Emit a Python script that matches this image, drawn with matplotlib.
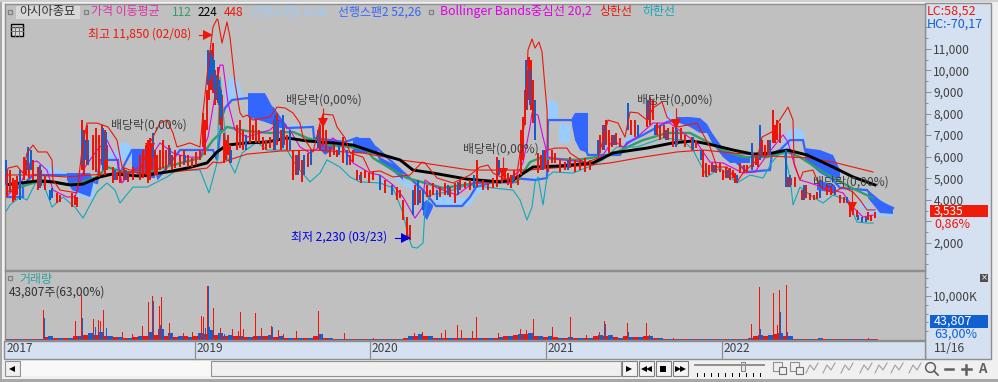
import numpy as np
import matplotlib
matplotlib.use("Agg")
import matplotlib.pyplot as plt
from matplotlib.patches import Rectangle
from matplotlib.ticker import FixedLocator, FuncFormatter

plt.rcParams['font.family'] = ['Noto Sans CJK KR', 'DejaVu Sans']

nan = float('nan')

# candles: bar number, high, low
red_x = [7,10,13,15,17,20,24,26,29,33,38,41,45,57,60,72,75,77,82,84,87,93,96,99,102,105,107,113,117,120,124,128,133,140,143,146,148,150,152,155,157,160,163,166,169,172,175,180,184,188,192,196,200,203,205,207,209,211,213,215,218,220,222,224,226,228,230,237,240,243,250,253,256,259,263,266,270,274,277,281,284,287,293,296,299,302,308,320,323,326,330,334,337,343,350,353,357,361,365,369,373,385,397,400,403,407,410,415,420,427,430,433,440,445,450,455,460,465,470,477,483,488,493,497,502,505,508,511,514,518,521,523,525,527,529,531,533,538,541,545,548,552,555,560,565,570,575,580,585,590,600,603,606,609,612,616,620,631,635,647,650,653,657,660,664,668,673,677,681,685,692,696,703,706,709,712,716,720,723,726,730,733,735,740,744,747,753,756,758,762,765,768,773,775,777,780,788,791,795,802,806,810,814,817,827,831,840,844,850,853,857,868,871,875]
red_hi = [5290,5380,5010,4920,5100,5010,5980,5850,5610,5850,5520,5380,5150,4320,4220,4320,4220,4130,7700,7240,7470,7010,7330,7010,7470,7240,6540,5520,5290,5380,5470,5290,5520,6080,6310,6540,6770,6870,6540,6310,6080,6310,6770,6310,6540,6080,6310,6080,6310,6080,5940,6220,6310,8030,7700,9090,10480,10950,11270,10020,10160,9230,8860,7100,6770,7010,6540,7470,7700,7240,7840,7470,7700,7240,6910,6770,6910,7700,8030,7240,7380,7010,6310,6080,6310,5850,6170,7470,7840,7240,6450,6540,6310,6910,6080,6310,5380,5290,5380,5240,5290,4920,4590,4450,3990,3200,2830,4690,4450,4690,4450,4780,4590,4780,4590,4780,4920,4830,4920,5850,4920,4830,5010,5980,5380,5290,5240,5150,5380,5150,7240,7840,9090,10020,10620,10480,9560,6170,6080,6310,5850,6310,6170,5850,5750,5980,5850,5850,5940,5850,7010,7470,7700,7240,7010,7100,6870,7700,7700,8400,8770,8630,7560,7470,7470,7330,7380,7240,7330,7010,6910,6770,6310,5710,5610,5710,5610,5710,5380,5520,5470,5380,5240,5710,5610,5610,6170,6080,5940,6770,6540,6770,8170,7470,7700,7560,5060,5010,5060,4450,4690,4320,4220,4360,4690,4590,4220,4130,3760,3660,3530,3430,3290,3430]
red_lo = [4130,4360,3900,3990,4220,4180,4920,5150,5010,4920,4450,4640,4450,3850,3900,3660,3760,3660,5380,5150,5610,5380,5290,5060,5610,5150,5380,4780,4920,4780,4920,4830,4920,4920,5010,5150,4780,4920,5380,5150,5150,5380,5470,5380,5610,5380,5470,5520,5610,5520,5520,5610,5850,6450,6080,7240,8630,9090,8950,8400,8490,7470,7240,5710,5850,6080,5710,6310,6400,6310,6640,6770,6640,6640,6310,6310,6400,6310,6540,6310,6540,6310,4920,5150,5380,4830,5520,6310,6540,6310,5980,6080,5980,5710,5610,5750,4920,4780,5010,4780,4920,4320,3990,4080,3060,2130,2130,3760,3850,4130,4130,4220,4130,4220,4130,3850,4450,4550,4450,4590,4450,4450,4550,4590,4780,4920,4690,4550,4920,4690,5150,5850,7470,8170,8630,8170,7560,5240,5380,5470,5290,5710,5710,5290,5380,5470,5290,5380,5290,5380,6170,6310,6540,6170,6450,6540,6450,7010,6910,7380,7470,7700,7010,6770,6870,6770,6450,6540,6770,6450,6310,6400,5060,5060,5150,5290,5240,5290,4920,5010,4920,5010,4780,5240,5240,5290,5520,5610,5520,5980,5980,6080,6640,6640,6770,6640,4590,4690,4590,3990,4080,3990,3990,4040,4220,4220,3850,3850,3200,3290,3200,3060,3020,3150]

blue_x = [6,20,28,31,40,50,52,82,85,88,103,106,115,126,153,170,185,208,210,212,214,216,219,221,231,246,275,278,283,290,298,304,311,318,339,347,360,380,392,413,418,423,437,448,458,474,499,513,526,530,535,543,568,598,604,614,628,638,648,655,666,676,693,701,714,728,737,752,760,770,786,790,804,820,835,847,858,862,866]
blue_hi = [5850,5380,6450,6310,5610,4450,4550,7240,6770,6770,7330,7150,5380,5380,7100,6400,6080,10950,10860,10720,10480,9790,9560,9090,6310,7010,7930,7700,7930,7240,6080,6080,6310,7240,6540,6310,5150,5150,4690,4450,4920,4450,4450,4690,4830,5150,5850,5150,10480,10020,8630,6310,5850,6770,7470,7010,8490,7470,8630,7470,7240,7470,6910,6310,5610,5380,5150,6640,7470,6770,6310,5150,4690,4450,4590,4130,3290,3200,3200]
blue_lo = [4690,3990,5380,5380,4550,3990,4080,5610,5850,5610,5380,5850,4920,4920,5940,5610,5750,9330,9560,9790,9090,8630,8400,7790,5710,6310,6310,6770,6400,6310,5150,5150,5610,6400,6080,5610,4920,4450,4220,3290,3760,3530,3990,4220,4220,4550,5150,4780,8170,8400,6770,5380,5380,6080,6310,6540,7240,6910,7700,7010,6770,6450,6310,5850,5290,5010,4780,5380,5850,6080,4590,4590,3990,4080,4220,3850,3060,2970,2970]

# moving averages
ma112_x = [5,20,43,67,83,97,107,123,147,173,200,213,227,247,270,293,307,330,350,367,373,393,407,443,477,517,530,540,577,610,643,667,690,723,743,767,787,800,823,850,873]
ma112 = [4320,4590,4920,4690,4830,5060,5520,5290,5290,5610,5940,6770,7380,7190,7100,7150,6870,6540,6450,6310,5940,5380,5010,4550,4780,4830,5750,5940,5850,6080,6770,7100,7100,6310,5980,5980,6220,5980,5290,4590,4080]
ma224_x = [5,37,53,70,83,100,113,140,167,187,207,217,227,247,267,287,307,333,353,380,400,413,433,467,500,513,533,560,593,613,647,673,693,713,733,753,773,787,807,833,853,875]
ma224 = [4690,4870,4830,4690,4730,5060,5200,5100,5290,5470,5710,6220,6540,6640,6680,6870,6730,6640,6540,6120,5850,5380,5240,4960,4830,4920,5520,5570,5710,6170,6400,6640,6730,6540,6310,6120,6170,6310,6080,5520,5060,4690]
ma448_x = [5,33,67,130,147,173,207,213,220,247,280,313,363,400,423,470,527,590,610,643,677,703,733,770,810,833,873]
ma448 = [5150,5150,5060,5290,5240,5290,5470,5750,5710,6120,6260,6310,6170,5850,5710,5380,5380,5610,5710,5980,6220,6310,6170,6030,5940,5750,5290]

# bollinger bands
upper_x = [5,8,17,23,27,33,38,47,52,53,60,77,82,87,97,108,117,122,130,140,150,160,167,173,177,190,200,203,208,213,217,218,222,227,230,235,240,243,247,253,263,270,277,285,293,300,303,313,320,323,333,337,345,350,363,370,380,393,410,422,425,437,453,470,480,488,493,507,517,525,528,532,535,539,542,545,547,548,555,567,570,585,598,603,608,618,625,630,638,647,653,662,667,678,697,710,717,727,737,743,757,762,772,788,793,794,800,803,813,820,833,843,853,860,867,875]
upper = [4780,5470,5570,5240,6170,6540,6220,6220,5850,4920,4450,4320,6310,7560,7560,7380,6770,5520,5380,5380,6640,7560,7700,7100,6450,6640,6450,8030,10160,12020,12390,12340,11270,12250,11550,9420,8030,7840,7930,7700,7790,7840,8300,8260,8030,7560,6910,6220,7560,7980,7930,7380,6870,6170,5980,5290,5340,5060,5150,5750,5710,5010,4780,5150,5520,5610,5240,4920,5240,7700,10950,11460,11040,11320,10860,9230,8170,6310,6400,6400,6170,5710,5940,6770,7700,7560,6910,8070,8030,7700,8260,8540,7840,7380,7560,6450,5520,5520,4830,5240,5850,6910,7150,8300,7700,5710,4920,5290,5380,4590,4320,4590,4360,3990,3530,3530]
mid_x = [5,13,20,30,37,47,53,67,75,85,97,107,117,122,133,147,160,173,187,200,208,213,220,223,228,235,247,270,280,290,300,310,320,333,343,353,370,380,393,403,415,422,425,437,457,473,493,513,523,530,532,538,543,548,563,593,603,613,623,637,653,670,683,697,710,723,743,755,767,783,788,795,800,810,822,843,853,863,873]
mid = [4080,4450,4690,5710,5800,5380,4450,4130,4130,5520,6310,6770,5850,4780,5380,5710,6640,6170,5980,5980,6910,8300,10250,10250,8490,7240,6910,7240,7700,7240,6450,6170,6450,6870,6450,5710,5240,5150,4690,4130,3150,3620,4920,4550,4220,4780,4830,4780,5710,7380,8030,7930,6910,5980,5850,5710,6080,6770,6450,6910,7560,7560,7100,6640,5750,5710,5240,5290,6080,7010,6680,5520,4920,4780,4590,4320,3660,3200,3290]
lower_x = [5,10,20,27,37,43,52,63,75,83,97,107,115,120,133,147,167,177,200,209,217,220,223,227,235,242,257,267,287,297,310,320,327,340,350,360,380,393,403,408,412,417,423,425,430,447,467,493,513,520,527,532,535,538,543,547,553,573,593,603,617,637,663,683,693,707,720,737,750,763,772,783,790,793,800,813,823,833,847,857,867,873]
lower = [3390,3760,4130,3990,4920,4780,3660,4130,3660,3150,4360,4780,4450,3850,4590,4590,5060,5380,5380,4320,5710,9700,8170,5980,5240,6170,6680,6310,6310,5520,4830,5240,5850,5520,5060,4830,4780,4550,3390,2370,1810,1760,1990,3530,4220,4360,4690,4550,4450,3990,3060,3660,4780,5060,3760,5060,5290,5240,5610,5850,6450,6450,6870,6770,6310,5060,5470,4780,5150,5010,5750,6310,5060,3760,4590,4130,3850,4220,3990,2970,2920,2920]

# ichimoku cloud, pieces split by nan
light_x = [45,65,65, 72,93,95,95, 100,118,120,130,133,133, 225,230,235,240,243,243, 290,310,310, 345,355,355, 395,403,420,420, 435,460,470,476,490,490, 533,537,537, 548,552,558,558, 559,570,570, 625,630,637,643,643, 667,670,673,673, 780,788,795,803,805,805, 860,872,882,893]
light_top = [5610,5290,nan, 4450,4920,4690,nan, 6080,6310,6640,6640,5850,nan, 8860,9700,9650,9330,8720,nan, 7470,7470,nan, 6870,6770,nan, 5150,5010,4450,nan, 4220,4080,4130,4690,4920,nan, 5150,5060,nan, 8630,8630,8400,nan, 7560,7470,nan, 6770,7010,7100,7100,nan, 8070,8070,7790,nan, 6310,7240,7330,7240,6870,nan, 3990,3620,3290,3430]
light_bot = [5150,5150,nan, 4130,4080,4130,nan, 5850,5850,5850,5850,5850,nan, 8260,8630,8630,8720,8720,nan, 7330,7330,nan, 6680,6680,nan, 4920,4690,4220,nan, 3710,3710,3710,4220,4590,nan, 4830,4830,nan, 7700,7700,7700,nan, 6640,6640,nan, 6450,6540,6770,7010,nan, 7700,7610,7610,nan, 6080,6310,6770,6770,6310,nan, 3660,3290,3200,3250]
dark_x = [67,72,90,93,93, 132,140,150,155,155, 248,265,273,280,287,287, 318,325,335,335, 353,370,377,380,395,403,403, 423,427,433,433, 572,575,580,588,588, 677,690,700,707,712,723,730,750,750, 805,820,833,840,840, 817,835,835, 868,880,893]
dark_top = [5240,5240,5240,4920,nan, 6310,6310,6310,6080,nan, 8950,8950,8260,7790,7470,nan, 6770,6540,6770,nan, 6870,6870,6400,5980,5610,5290,nan, 3850,3990,3760,nan, 7790,8030,8030,8030,nan, 7840,7840,7790,7520,7100,6310,6220,5980,nan, 6400,6310,6080,5380,nan, 4920,4690,nan, 4450,3990,3620]
dark_bot = [4920,4450,4130,4690,nan, 5380,5100,5010,5010,nan, 7840,7610,7470,7330,7330,nan, 6450,6080,6400,nan, 6170,6170,6080,5750,5240,4920,nan, 3290,3060,3660,nan, 7470,6770,6310,6170,nan, 7610,7380,7100,7100,6640,5980,5710,5710,nan, 5850,5240,4920,5010,nan, 4450,4320,nan, 4080,3390,3340]
span2_x = [5,23,23,33,70,97,100,118,119,132,150,158,165,180,213,217,222,225,232,247,273,287,313,314,345,357,377,403,423,436,462,470,476,490,513,535,547,548,572,588,620,627,643,667,687,707,723,747,770,772,780,790,803,805,810,833,840,867,875,893]
span2 = [4130,4130,4690,5150,5150,4780,5850,5850,5150,6310,6310,5010,5380,6310,6310,5850,7840,8260,8630,8720,8260,7330,7380,6870,6680,6870,6400,5290,4450,3710,3710,4130,4590,4780,5010,4920,5010,7700,7700,6080,6080,6640,7010,7610,7790,7330,6310,5290,5380,6170,6310,6770,6770,6310,5710,4920,4550,4450,3990,3620]

# dividend markers: bar, line top, triangle
div_x = [150,323,503,676,852]
div_top = [6870,8260,5980,8260,4450]
div_mark = [6400,7560,5240,7520,3660]

# volume in K
vol_red_x = [43,75,81,93,98,100,103,122,132,142,148,152,159,161,169,183,192,201,203,207,213,220,232,238,240,243,255,261,271,278,283,296,307,318,344,373,414,422,441,445,457,461,472,476,498,520,526,533,552,570,586,599,604,627,646,649,673,751,759,773,777,779,786,822,868]
vol_red = [6810,4310,10200,4700,4540,4310,6800,1800,1360,3180,8600,9990,7720,9760,3860,1590,1820,5450,5220,12260,7260,2720,2500,2040,6360,2500,6130,2720,3180,2270,1360,2040,500,6580,1590,450,1590,1820,1590,2270,3400,2270,2040,5220,1590,2500,2270,4770,2950,5220,1130,1820,4310,3860,3860,1130,450,3630,12030,10670,3400,11350,12490,450,450]
vol_blue_x = [44,82,95,100,106,153,160,163,205,208,209,211,224,233,272,320,605,628,760,780,787]
vol_blue = [4930,4900,2900,2700,2720,8850,3400,2500,2700,12260,3000,1800,1300,1000,2950,1130,3630,1820,2500,6360,1820]
vol_small_red = [120,120,120,120,700,400,500,800,1100,1100,800,700,500,700,800,1100,900,700,800,800,1300,1100,800,800,700,800,800,700,500,350,350,800,350,200,150,120,120,120,120,150,500,800,800,500,500,500,350,500,500,500,800,1100,1300,800,700,700,500,500,500,800,800,700,800,700,800,350,300,250,150,150,150,120,150,150,250,800,800,1400,800,150,120,150,250,120,120,120,120,120]
vol_small_blue = [120,120,120,120,800,500,500,800,1500,1800,800,700,500,800,1800,2600,1500,800,700,1500,2200,1500,1100,800,700,800,1100,800,500,500,350,1400,350,150,150,120,120,120,120,150,800,1400,800,500,500,500,350,500,350,700,900,1400,1500,800,800,500,700,500,500,1100,1100,500,700,700,800,350,250,150,150,120,120,150,150,150,500,1100,1100,1500,800,150,120,500,120,120,120,120,120]

price_ticks = [2000,3000,4000,5000,6000,7000,8000,9000,10000,11000,12000]
price_hidden = [3000,12000]
year_labels = ["2017","2019","2020","2021","2022"]
year_pos = [5,195,370,546,722]

W, H = 998, 382
BG = '#c0c0c0'
PANEL = '#d5e1f0'
EDGE = '#8e8e8e'
RED = '#f01408'
BLUE = '#1060d0'
SPAN1 = '#99ccff'
SPAN2 = '#3366ff'
TEAL = '#10a8b8'
MAG = '#e000e0'
GREEN = '#2e9e6b'
DARK = '#404040'


def px_axes(fig, l, t, r, b, **kw):
    return fig.add_axes([l / W, 1 - b / H, (r - l) / W, (b - t) / H], **kw)


fig = plt.figure(figsize=(W / 100, H / 100), dpi=100, facecolor='#f0f0f0')

# chrome behind the panels
back = px_axes(fig, 0, 0, W, H, zorder=0)
back.set_xlim(0, W)
back.set_ylim(H, 0)
back.axis('off')
back.add_patch(Rectangle((0, 0), 2, H, color='#a8a8a8', lw=0))
back.add_patch(Rectangle((0, 379), W, 3, color='#a8a8a8', lw=0))
back.add_patch(Rectangle((0, 0), W, 2, color='#d0d0d0', lw=0))
back.add_patch(Rectangle((925, 3), 66, 356, color=PANEL, ec=EDGE, lw=1))
back.add_patch(Rectangle((4, 341), 921, 18, color=PANEL, ec=EDGE, lw=1))
for p in year_pos[1:]:
    back.plot([p, p], [341, 359], color=EDGE, lw=0.9)

ax = px_axes(fig, 5, 4, 925, 270, zorder=1, facecolor=BG)
ax.set_xlim(5, 925)
ax.set_ylim(742, 13085)

# cloud
ax.fill_between(light_x, light_top, light_bot, color=SPAN1, lw=0, zorder=1)
ax.fill_between(dark_x, dark_top, dark_bot, color=SPAN2, lw=0, zorder=1.2)
ax.plot(span2_x, span2, color=SPAN2, lw=1.6, zorder=1.4, solid_joinstyle='miter')

# moving averages and bands
ax.plot(ma112_x, ma112, color=GREEN, lw=1.7, zorder=2)
ax.plot(lower_x, lower, color=TEAL, lw=0.8, zorder=2.1)
ax.plot(mid_x, mid, color=MAG, lw=0.8, zorder=2.2)
ax.plot(ma448_x, ma448, color=RED, lw=0.8, zorder=2.3)
ax.plot(ma224_x, ma224, color='black', lw=2.1, zorder=2.4)
ax.vlines(red_x, red_lo, red_hi, color=RED, lw=1.1, zorder=3, antialiased=False)
ax.vlines(blue_x, blue_lo, blue_hi, color=BLUE, lw=1.1, zorder=3.1, antialiased=False)
ax.plot(upper_x, upper, color=RED, lw=0.8, zorder=3.2)

# dividend arrows, high and low
ax.vlines(div_x, div_mark, div_top, color=RED, lw=0.8, zorder=4)
ax.plot(div_x, div_mark, 'v', color=RED, ms=7, mew=0, zorder=4)
ax.plot([199, 208], [11650, 11650], color=RED, lw=0.8, zorder=4)
ax.plot([208], [11650], '>', color=RED, ms=7, mew=0, zorder=4)
ax.plot([395, 406], [2250, 2250], color='#0000e0', lw=0.8, zorder=4)
ax.plot([406], [2250], '>', color='#0000e0', ms=7, mew=0, zorder=4)

ax.yaxis.tick_right()
ax.yaxis.set_major_locator(FixedLocator(price_ticks))
ax.yaxis.set_major_formatter(FuncFormatter(lambda v, p: "" if int(v) in price_hidden else f"{int(v):,}"))
ax.yaxis.set_minor_locator(FixedLocator([v + 500 for v in range(1000, 12000, 1000)] + [1000]))
ax.tick_params(axis='y', which='major', length=4.5, width=0.7, color=EDGE, labelcolor=DARK, labelsize=8.6, pad=1.5)
ax.tick_params(axis='y', which='minor', length=2.5, width=0.7, color=EDGE)
ax.set_xticks([])
for s in ax.spines.values():
    s.set_color(EDGE)
    s.set_linewidth(1)

vol = px_axes(fig, 5, 271, 925, 340, zorder=1, facecolor=BG)
vol.set_xlim(5, 925)
vol.set_ylim(0, 15700)
vol.bar(list(range(5, 876, 10)), vol_small_red, width=5, color=RED, lw=0, antialiased=False)
vol.bar(list(range(10, 871, 10)), vol_small_blue, width=5, color=BLUE, lw=0, antialiased=False)
vol.bar(vol_red_x, vol_red, width=1, color=RED, lw=0, antialiased=False)
vol.bar(vol_blue_x, vol_blue, width=1, color=BLUE, lw=0, antialiased=False)
vol.yaxis.tick_right()
vol.yaxis.set_major_locator(FixedLocator([10000]))
vol.yaxis.set_major_formatter(FuncFormatter(lambda v, p: f"{int(v):,}K"))
vol.yaxis.set_minor_locator(FixedLocator([2000, 4000, 6000, 8000, 12000, 14000]))
vol.tick_params(axis='y', which='major', length=4.5, width=0.7, color=EDGE, labelcolor=DARK, labelsize=8.6, pad=1.5)
vol.tick_params(axis='y', which='minor', length=2.5, width=0.7, color=EDGE)
vol.set_xticks([])
for s in vol.spines.values():
    s.set_color(EDGE)
    s.set_linewidth(1)

# texts and toolbar on top
top = px_axes(fig, 0, 0, W, H, zorder=5)
top.set_xlim(0, W)
top.set_ylim(H, 0)
top.axis('off')
top.patch.set_alpha(0)


def label(x, y, s, color=DARK, size=8.6, ha='left', **kw):
    top.text(x, y, s, color=color, fontsize=size, ha=ha, va='center', **kw)


top.add_patch(Rectangle((16, 6), 64, 13, color='#d8d8d8', lw=0))
for bx, by in [(8, 10), (84, 10), (429, 10), (8, 276)]:
    top.add_patch(Rectangle((bx, by), 4, 4, fc='none', ec='#808080', lw=0.9))
label(19, 12, "아시아종묘", color='#303030', size=8.8)
label(91, 12, "가격 이동평균", color='#e030a8')
label(172, 12, "112", color=GREEN)
label(198, 12, "224", color='black')
label(224, 12, "448", color=RED)
label(250, 12, "선행스팬1 9,26", color=SPAN1)
label(338, 12, "선행스팬2 52,26", color=SPAN2)
label(440, 12, "Bollinger Bands중심선 20,2", color=MAG, size=8.9)
label(599, 12, "상한선", color=RED)
label(642, 12, "하한선", color=TEAL)

# little calendar button
top.add_patch(Rectangle((11, 24), 12, 12, fc='#d8d8d8', ec='black', lw=1))
top.plot([11, 23], [27, 27], color='#505050', lw=1)
for gx in [15, 19]:
    top.plot([gx, gx], [27, 36], color='#707070', lw=0.7)
top.plot([11, 23], [31, 31], color='#707070', lw=0.7)

label(88, 34, "최고 11,850 (02/08)", color=RED)
label(291, 237, "최저 2,230 (03/23)", color='#0000e0')
for tx, ty in [(111, 125), (286, 100), (463, 149), (637, 100), (813, 182)]:
    label(tx, ty, "배당락(0,00%)", color=DARK)

label(927, 11, "LC:58,52", color=RED, size=9)
label(927, 24, "HC:-70,17", color=BLUE, size=9)
top.add_patch(Rectangle((930, 205), 58, 12, color='#ee1c08', lw=0))
label(934, 211, "3,535", color='white', size=8.6)
label(934, 224, "0,86%", color=RED, size=9)
top.add_patch(Rectangle((930, 315), 58, 13, color='#1060d0', lw=0))
label(934, 321.5, "43,807", color='white', size=9)
label(934, 334, "63,00%", color=BLUE, size=9)
top.add_patch(Rectangle((980, 274), 8, 8, color='#505050', lw=0))
top.text(984, 278, "×", color='white', fontsize=6, ha='center', va='center', family='DejaVu Sans')

label(19, 279, "거래량", color='#30a0a0')
label(9, 292, "43,807주(63,00%)", color='#303030')
for yl, yp in zip(year_labels, year_pos):
    label(yp + 2, 349, yl)
label(934, 349, "11/16")

# scroll bar
top.add_patch(Rectangle((5, 361), 15, 15, fc='#f0f0f0', ec='#909090', lw=0.8))
top.add_patch(Rectangle((21, 361), 190, 15, color='#f8f8f8', lw=0))
top.add_patch(Rectangle((211, 361), 410, 15, fc='#f0f0f0', ec='#909090', lw=0.8))
top.plot([12], [368.5], '<', color='black', ms=4, mew=0)
for bx, syms in [(622, ['>']), (639, ['<', '<']), (656, ['s']), (673, ['>', '>'])]:
    top.add_patch(Rectangle((bx, 361), 15, 15, fc='#f4f4f4', ec='#808080', lw=0.8))
    for i, m in enumerate(syms):
        off = (i - (len(syms) - 1) / 2) * 5
        top.plot([bx + 7.5 + off], [368.5], m, color='black', ms=4.5, mew=0)

# speed slider
top.plot([695, 764], [365, 365], color='#909090', lw=1.4)
top.add_patch(Rectangle((741, 362), 4, 9, fc='#e8e8e8', ec='#808080', lw=0.7))
for tx in range(697, 765, 7):
    top.plot([tx, tx], [373, 376], color='black', lw=0.7)

# toolbar icons
for bx in [773, 790]:
    top.add_patch(Rectangle((bx, 362), 9, 9, fc='#f0f0f0', ec='#909090', lw=0.8))
    top.add_patch(Rectangle((bx + 6, 367), 7, 7, fc='#f0f0f0', ec='#707070', lw=0.8))
for bx in [806, 823, 841, 860, 875, 891, 909]:
    top.plot([bx, bx + 4, bx + 8, bx + 12], [373, 365, 370, 363], color='#a0a0a0', lw=0.8)
top.plot([930], [367], 'o', mfc='none', mec='#606060', ms=7, mew=1.1)
top.plot([934, 938], [371, 375], color='#606060', lw=1.3)
top.plot([945, 953], [369, 369], color='#606060', lw=1.8)
top.plot([962, 971], [369, 369], color='#606060', lw=1.8)
top.plot([966.5, 966.5], [364.5, 373.5], color='#606060', lw=1.8)
top.text(982, 369, "A", color='#606060', fontsize=9.5, fontweight='bold', ha='center', va='center')

fig.savefig("out.png", dpi=100, facecolor=fig.get_facecolor())
